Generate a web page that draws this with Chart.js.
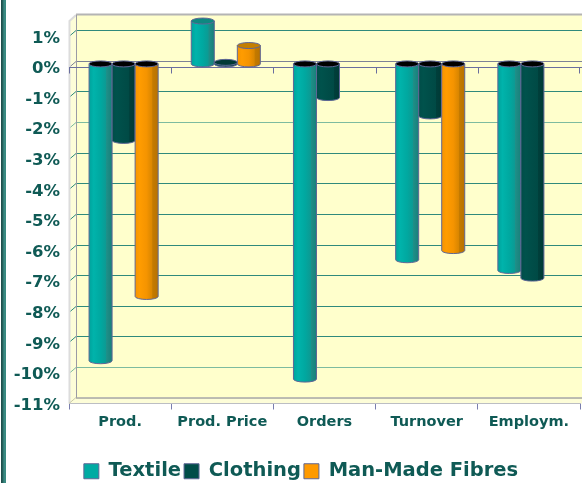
<!DOCTYPE html>
<html><head><meta charset="utf-8">
<style>html,body{margin:0;padding:0;background:#fff;overflow:hidden}
#w{position:relative;width:582px;height:483px}
#s{position:absolute;left:1px;top:0;width:5px;height:483px;background:linear-gradient(90deg,#1f4f4c 0,#1f4f4c 20%,#3a8a82 60%,#3a8a82 100%)}
canvas{position:absolute;left:0;top:0}</style>
<script src="https://cdn.jsdelivr.net/npm/chart.js@4"></script></head><body>
<div id="w"><canvas id="c" width="582" height="483"></canvas><div id="s"></div></div>
<script>
const categories=['Prod.','Prod. Price','Orders','Turnover','Employm.'];
const textile=[-9.7,1.4,-10.3,-6.4,-6.75];
const clothing=[-2.5,0.05,-1.1,-1.7,-7.0];
const manMade=[-7.6,0.6,null,-6.1,null];
const seriesNames=['Textile','Clothing','Man-Made Fibres'];
const yTicks=[1,0,-1,-2,-3,-4,-5,-6,-7,-8,-9,-10,-11];
const yMin=-11,yMax=1.5;
const DX=7,DY=6,INK='#0f5a55',EDGE='#5f6796';
const look=[
 {base:'#00aba3',stops:['#00a39c','#00b3ab','#00a8a0','#0c9a93','#1f8f88','#17807a'],cap:'#0e8880'},
 {base:'#004d48',stops:['#004d48','#00524c','#004d48','#004a45','#003f3b','#003a36'],cap:'#003a36'},
 {base:'#ff9a00',stops:['#f59400','#ff9c00','#f59400','#d98600','#c47a00','#b87200'],cap:'#c47f00'}];
function cylinder(ctx,el,L){
 const w=el.width,x0=el.x-w/2+DX/2,x1=x0+w,rx=w/2,ry=DY/2,cx=x0+rx;
 const v=el.y-DY/2,b=el.base-DY/2;
 const top=Math.min(v,b),bot=Math.max(v,b);
 const neg=el.y>el.base;
 const g=ctx.createLinearGradient(x0,0,x1,0);
 [0,.2,.5,.74,.76,1].forEach((p,i)=>g.addColorStop(p,L.stops[i]));
 ctx.beginPath();ctx.moveTo(x0,top);ctx.lineTo(x0,bot);
 ctx.ellipse(cx,bot,rx,ry,0,Math.PI,0,true);
 ctx.lineTo(x1,top);ctx.closePath();
 ctx.fillStyle=g;ctx.fill();ctx.strokeStyle=EDGE;ctx.lineWidth=1;ctx.stroke();
 ctx.beginPath();ctx.ellipse(cx,top,rx,ry,0,0,Math.PI*2);
 ctx.fillStyle=neg?'#000':L.cap;ctx.fill();ctx.stroke();
}
const scene={id:'scene',
 afterLayout(chart){
  const g=chart.legend;g.left+=11;g.right+=11;g.top+=8;g.bottom+=8;
 },
 beforeDatasetsDraw(chart){
  const c=chart.ctx,{left:l,right:r,top:t,bottom:b}=chart.chartArea,ys=chart.scales.y,xs=chart.scales.x;
  c.save();
  c.fillStyle='#ffffcc';c.fillRect(l+DX,t-DY,582-l-DX,b-t);
  c.beginPath();c.moveTo(l,t);c.lineTo(l+DX,t-DY);c.lineTo(l+DX,b-DY);c.lineTo(l,b);c.closePath();c.fillStyle='#fdfdd8';c.fill();
  c.beginPath();c.moveTo(l,b);c.lineTo(l+DX,b-DY);c.lineTo(582,b-DY);c.lineTo(582,b);c.closePath();c.fillStyle='#fdfdd8';c.fill();
  ys.ticks.forEach(k=>{
   if(k.value===yMin)return;
   const y=Math.round(ys.getPixelForValue(k.value))+.5;
   c.strokeStyle=k.value===0?'#7d8296':(k.value===-2||k.value===-10?'#7dbb9f':'#2f8a7c');
   c.lineWidth=1;
   c.beginPath();c.moveTo(l,y);c.lineTo(l+DX,y-DY);c.lineTo(582,y-DY);c.stroke();
  });
  c.strokeStyle='#dcdcdc';c.lineWidth=2;c.beginPath();c.moveTo(l+.5,b);c.lineTo(l+.5,t);c.lineTo(l+DX,t-DY);c.stroke();
  c.strokeStyle='#b4b4b4';c.beginPath();c.moveTo(l+DX,t-DY-.5);c.lineTo(582,t-DY-.5);c.stroke();
  c.strokeStyle='#9a9aa4';c.lineWidth=1;c.beginPath();c.moveTo(l+DX+.5,t-DY);c.lineTo(l+DX+.5,b-DY);c.stroke();
  c.strokeStyle='#7b7b86';c.beginPath();c.moveTo(l+DX,b-DY+.5);c.lineTo(582,b-DY+.5);c.stroke();
  c.strokeStyle='#c8c8a8';c.beginPath();c.moveTo(l,b);c.lineTo(l+DX,b-DY);c.stroke();
  const z=Math.round(ys.getPixelForValue(0))+.5;
  c.strokeStyle='#6a6e9e';c.beginPath();c.moveTo(l,z);c.lineTo(582,z);c.stroke();
  categories.forEach((_,i)=>{
   const x=Math.round(xs.getPixelForTick(i)-(xs.getPixelForTick(1)-xs.getPixelForTick(0))/2)+.5;
   c.beginPath();c.moveTo(x,z);c.lineTo(x,z+6);c.stroke();
  });
  const xe=Math.round(r)-.5;c.beginPath();c.moveTo(xe,z);c.lineTo(xe,z+6);c.stroke();
  chart.data.datasets.forEach((d,i)=>{
   chart.getDatasetMeta(i).data.forEach((el,j)=>{ if(d.data[j]!=null)cylinder(c,el,look[i]); });
  });
  c.restore();
  return false;
 }};
new Chart(document.getElementById('c'),{
 type:'bar',
 data:{labels:categories,datasets:[
  {label:seriesNames[0],data:textile,backgroundColor:look[0].base,borderColor:EDGE,borderWidth:1},
  {label:seriesNames[1],data:clothing,backgroundColor:look[1].base,borderColor:EDGE,borderWidth:1},
  {label:seriesNames[2],data:manMade,backgroundColor:look[2].base,borderColor:EDGE,borderWidth:1}]},
 options:{responsive:false,animation:false,
  layout:{padding:{top:21,right:2,bottom:0,left:0}},
  datasets:{bar:{categoryPercentage:0.676,barPercentage:1}},
  plugins:{tooltip:{enabled:false},
   legend:{position:'bottom',onClick:null,labels:{boxWidth:15,boxHeight:15,padding:3,color:INK,font:{family:'"DejaVu Sans"',weight:'bold',size:19.5}}}},
  scales:{
   x:{grid:{drawOnChartArea:false,drawTicks:true,tickLength:6,color:'#7a7eae',offset:true},border:{color:'#7a7eae'},
      ticks:{color:INK,padding:4,maxRotation:0,autoSkip:false,font:{family:'"DejaVu Sans"',weight:'bold',size:14.5}},
      afterFit(s){s.height=47;}},
   y:{min:yMin,max:yMax,
      afterBuildTicks(s){s.ticks=yTicks.map(v=>({value:v}));},
      grid:{display:false},border:{display:false},
      ticks:{stepSize:1,color:INK,padding:1,labelOffset:2,callback:v=>v+'%',font:{family:'"DejaVu Sans"',weight:'bold',size:16.5}},
      afterFit(s){s.width=69;}}
  }},
 plugins:[scene]});
</script></body></html>
